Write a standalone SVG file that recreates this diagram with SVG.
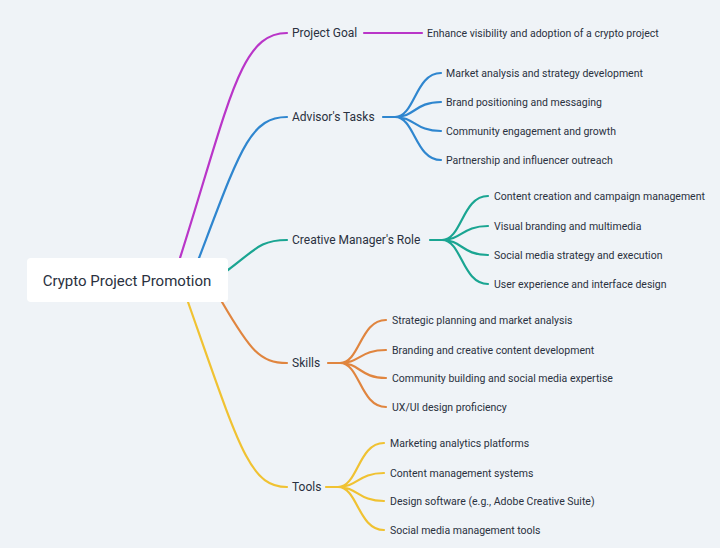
<svg xmlns="http://www.w3.org/2000/svg" width="720" height="548" viewBox="0 0 720 548">
<style>
text{font-family:Roboto,"Noto Sans",sans-serif;fill:#2a3140;dominant-baseline:central}
.b{font-size:12px}.l{font-size:10.5px}.r{font-size:15px}
path{fill:none;stroke-width:2.2;stroke-linecap:round}
.p{stroke:#b935c8}.a{stroke:#2f86cf}.c{stroke:#1aa592}.s{stroke:#e0853f}.t{stroke:#f0c232}
</style>
<rect width="720" height="548" fill="#eff3f7"/>
<g id="connectors">
<path class="p" d="M180,258 C230,100 240,33 287,33"/>
<path class="p" d="M364,33 L422,33"/>
<path class="a" d="M199,258 C240,150 250,117 287,117"/>
<path class="a" d="M383,117 L395,117 C415,117 415,73 441,73 M395,117 C415,117 415,102 441,102 M395,117 C415,117 415,131 441,131 M395,117 C415,117 415,160 441,160"/>
<path class="c" d="M228,270 C255,250 260,240 287,240"/>
<path class="c" d="M430,240 L442,240 C462,240 462,196 488,196 M442,240 C462,240 462,226 488,226 M442,240 C462,240 462,255 488,255 M442,240 C462,240 462,284 488,284"/>
<path class="s" d="M222,302 C250,350 260,363 287,363"/>
<path class="s" d="M328,363 L340,363 C360,363 360,320 386,320 M340,363 C360,363 360,350 386,350 M340,363 C360,363 360,378 386,378 M340,363 C360,363 360,407 386,407"/>
<path class="t" d="M188,302 C240,450 250,487 287,487"/>
<path class="t" d="M326,487 L338,487 C358,487 358,443 384,443 M338,487 C358,487 358,473 384,473 M338,487 C358,487 358,501 384,501 M338,487 C358,487 358,530 384,530"/>
</g>
<g id="root"><rect x="27" y="258" width="201" height="44" rx="4" fill="#fff"/><text class="r" x="127" y="281" text-anchor="middle">Crypto Project Promotion</text></g>
<g id="goal"><text class="b" x="292" y="33">Project Goal</text><text class="l" x="427" y="33">Enhance visibility and adoption of a crypto project</text></g>
<g id="advisor"><text class="b" x="292" y="117">Advisor's Tasks</text>
<text class="l" x="446" y="73">Market analysis and strategy development</text>
<text class="l" x="446" y="102">Brand positioning and messaging</text>
<text class="l" x="446" y="131">Community engagement and growth</text>
<text class="l" x="446" y="160">Partnership and influencer outreach</text></g>
<g id="creative"><text class="b" x="292" y="240">Creative Manager's Role</text>
<text class="l" x="494" y="196">Content creation and campaign management</text>
<text class="l" x="494" y="226">Visual branding and multimedia</text>
<text class="l" x="494" y="255">Social media strategy and execution</text>
<text class="l" x="494" y="284">User experience and interface design</text></g>
<g id="skills"><text class="b" x="292" y="363">Skills</text>
<text class="l" x="392" y="320">Strategic planning and market analysis</text>
<text class="l" x="392" y="350">Branding and creative content development</text>
<text class="l" x="392" y="378">Community building and social media expertise</text>
<text class="l" x="392" y="407">UX/UI design proficiency</text></g>
<g id="tools"><text class="b" x="292" y="487">Tools</text>
<text class="l" x="390" y="443">Marketing analytics platforms</text>
<text class="l" x="390" y="473">Content management systems</text>
<text class="l" x="390" y="501">Design software (e.g., Adobe Creative Suite)</text>
<text class="l" x="390" y="530">Social media management tools</text></g>
</svg>
